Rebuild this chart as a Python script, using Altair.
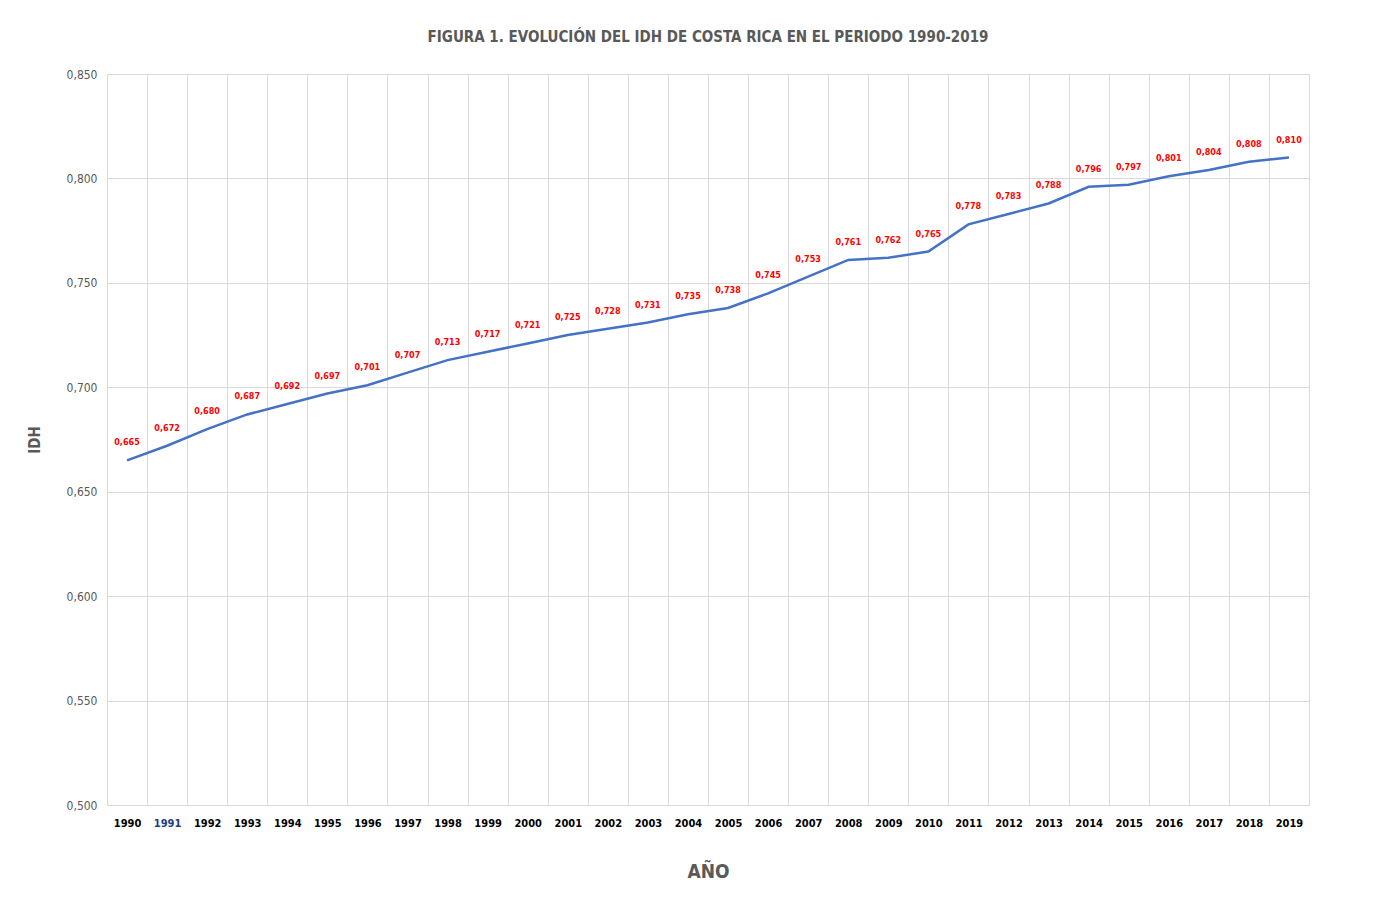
import altair as alt
import pandas as pd

years = [str(y) for y in range(1990, 2020)]
idh = [0.665, 0.672, 0.680, 0.687, 0.692, 0.697, 0.701, 0.707, 0.713, 0.717,
       0.721, 0.725, 0.728, 0.731, 0.735, 0.738, 0.745, 0.753, 0.761, 0.762,
       0.765, 0.778, 0.783, 0.788, 0.796, 0.797, 0.801, 0.804, 0.808, 0.810]
y_ticks = [0.50, 0.55, 0.60, 0.65, 0.70, 0.75, 0.80, 0.85]

df = pd.DataFrame({"year": years, "idh": idh})
df["lbl"] = [f"{v:.3f}".replace(".", ",") for v in idh]

FONT = "DejaVu Sans Condensed, Liberation Sans Narrow, Liberation Sans, sans-serif"

x = alt.X("year:N", sort=years,
          scale=alt.Scale(paddingInner=0, paddingOuter=0),
          axis=alt.Axis(title="AÑO", labelAngle=0, grid=True, tickBand="extent",
                        ticks=False, domain=True, domainColor="#d9d9d9",
                        gridColor="#d9d9d9", labelFont=FONT, labelFontSize=11,
                        labelFontWeight="bold",
                        labelColor=alt.expr("datum.value == '1991' ? '#1f3c88' : '#000000'"),
                        labelPadding=12, titleFont=FONT, titleFontSize=19,
                        titleFontWeight="bold", titleColor="#595959",
                        titlePadding=34))
y = alt.Y("idh:Q", scale=alt.Scale(domain=[0.5, 0.85], zero=False, nice=False),
          axis=alt.Axis(title="IDH", values=y_ticks, ticks=False, domain=False,
                        gridColor="#d9d9d9",
                        labelExpr="replace(format(datum.value, '.3f'), '.', ',')",
                        labelFont=FONT, labelFontSize=12, labelColor="#595959",
                        labelPadding=10, titleFont=FONT, titleFontSize=15,
                        titleFontWeight="bold", titleColor="#595959",
                        titlePadding=24))

base = alt.Chart(df)
line = base.mark_line(color="#4472C4", strokeWidth=2.5).encode(x=x, y=y)
text = base.mark_text(color="#ff0000", fontSize=9, fontWeight="bold", font=FONT,
                      dy=-18).encode(x=alt.X("year:N", sort=years), y="idh:Q", text="lbl:N")

chart = alt.layer(line, text).properties(
    width=1202, height=731,
    title=alt.TitleParams("FIGURA 1. EVOLUCIÓN DEL IDH DE COSTA RICA EN EL PERIODO 1990-2019",
                          font=FONT, fontSize=15, fontWeight="bold", color="#595959",
                          anchor="middle", offset=23),
    autosize=alt.AutoSizeParams(type="none"),
    padding={"left": 99, "top": 66, "right": 60, "bottom": 90},
).configure_view(stroke=None).configure(background="white")

chart.save("out.html", embed_options={"renderer": "svg", "actions": False})
